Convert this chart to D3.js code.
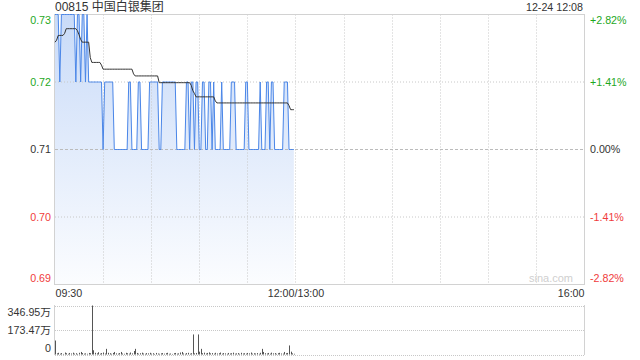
<!DOCTYPE html>
<html><head><meta charset="utf-8">
<script src="https://cdn.jsdelivr.net/npm/d3@7"></script>
<style>body{margin:0;background:#fff;} svg{display:block;font-family:"Liberation Sans",Arial,"Noto Sans CJK SC",sans-serif;}</style>
</head><body><svg width="640" height="360"></svg>
<script>
const title = "00815 中国白银集团";
const stamp = "12-24 12:08";
const prevClose = 0.71;
const priceTicks = [0.69, 0.70, 0.71, 0.72, 0.73];
const timeTicks = [0, 150, 330];
const timeLabels = ["09:30", "12:00/13:00", "16:00"];
const volTicks = [0, 173.47, 346.95];
const volLabels = ["0", "173.47万", "346.95万"];

// minute-by-minute last price from 09:30
const price = [
 .73,.73,.73,.72,.73,.73,.73,.73,.73,.73,
 .73,.73,.73,.72,.73,.73,.72,.73,.73,.72,
 .73,.72,.72,.72,.72,.72,.72,.72,.72,.72,
 .71,.72,.72,.72,.72,.72,.72,.71,.71,.71,
 .71,.71,.71,.71,.71,.71,.72,.72,.71,.71,
 .71,.71,.72,.72,.71,.71,.71,.71,.71,.72,
 .72,.72,.72,.72,.72,.71,.71,.72,.72,.72,
 .72,.72,.72,.72,.72,.72,.71,.71,.71,.71,
 .71,.71,.72,.72,.71,.72,.72,.71,.72,.72,
 .71,.71,.72,.72,.71,.71,.72,.72,.71,.72,
 .71,.71,.71,.71,.72,.71,.71,.71,.71,.71,
 .72,.72,.72,.71,.71,.71,.71,.71,.71,.72,
 .72,.71,.71,.71,.71,.71,.71,.71,.72,.71,
 .71,.71,.72,.72,.71,.72,.72,.71,.71,.71,
 .71,.71,.71,.72,.72,.72,.71,.71,.71,.71
];
// average price line
const avgPrice = [
 .7259,.7262,.7269,.7269,.7269,.7269,.7272,.7279,.7279,.7279,
 .7279,.7279,.7279,.7279,.7276,.7270,.7263,.7259,.7259,.7259,
 .7259,.7259,.7236,.7229,.7229,.7229,.7229,.7229,.7229,.7225,
 .7219,.7219,.7219,.7219,.7219,.7219,.7219,.7219,.7219,.7219,
 .7219,.7219,.7219,.7219,.7219,.7219,.7219,.7219,.7219,.7212,
 .7209,.7209,.7209,.7209,.7209,.7209,.7209,.7209,.7209,.7209,
 .7209,.7209,.7209,.7209,.7209,.7199,.7199,.7199,.7199,.7199,
 .7199,.7199,.7199,.7199,.7199,.7199,.7199,.7199,.7199,.7199,
 .7199,.7199,.7199,.7199,.7199,.7195,.7187,.7183,.7178,.7178,
 .7178,.7178,.7178,.7178,.7178,.7178,.7178,.7178,.7178,.7178,
 .7172,.7169,.7169,.7169,.7169,.7169,.7169,.7169,.7169,.7169,
 .7169,.7169,.7169,.7169,.7169,.7169,.7169,.7169,.7169,.7169,
 .7169,.7169,.7169,.7169,.7169,.7169,.7169,.7169,.7169,.7169,
 .7169,.7169,.7169,.7169,.7169,.7169,.7169,.7169,.7169,.7169,
 .7169,.7169,.7169,.7169,.7169,.7169,.7165,.7159,.7159,.7159
];
// volume per minute (万)
const volume = [
 99,8,12,6,10,4,14,9,5,11,
 7,13,6,9,4,12,18,10,6,8,
 5,11,9,346.95,30,12,8,16,6,10,
 14,7,40,12,9,5,11,18,8,6,
 10,18,7,5,12,9,6,14,8,25,
 40,11,6,9,13,7,5,10,8,12,
 6,9,4,11,7,5,8,10,6,9,
 12,5,7,4,9,11,6,8,14,18,
 7,5,10,12,6,9,142,8,11,142,
 20,40,9,13,7,11,15,8,10,6,
 12,7,9,14,6,10,8,5,11,7,
 9,13,6,8,10,5,12,7,9,6,
 11,8,14,6,9,7,10,5,12,40,
 18,9,7,11,6,13,8,10,5,9,
 12,7,6,18,9,11,64,20,8,5
];

const GREEN = "#1ea81e", RED = "#f03c3c", DARK = "#333";
const FS = 10.7;
const svg = d3.select("svg");
const x = d3.scaleLinear().domain([0, 330]).range([55, 584]);
const y = d3.scaleLinear().domain([0.69, 0.73]).range([284.5, 14.5]);
const yv = d3.scaleLinear().domain([0, 346.95]).range([354.5, 305.5]);
const colorOf = v => v > prevClose + 1e-9 ? GREEN : (v < prevClose - 1e-9 ? RED : DARK);

const defs = svg.append("defs");
const grad = defs.append("linearGradient").attr("id", "fillG")
  .attr("gradientUnits", "userSpaceOnUse").attr("x1", 0).attr("x2", 0)
  .attr("y1", y(0.73)).attr("y2", y(0.69));
grad.append("stop").attr("offset", 0).attr("stop-color", "rgb(74,134,232)").attr("stop-opacity", 0.30);
grad.append("stop").attr("offset", 1).attr("stop-color", "rgb(74,134,232)").attr("stop-opacity", 0.02);

// price area + line
svg.append("path").datum(price)
  .attr("d", d3.area().x((d, i) => x(i)).y0(y(0.69)).y1(d => y(d)))
  .attr("fill", "url(#fillG)");

// grid
const gridMin = d3.range(30, 330, 30);
svg.append("g").selectAll("line").data(gridMin).join("line")
  .attr("x1", d => Math.round(x(d)) + 0.5).attr("x2", d => Math.round(x(d)) + 0.5)
  .attr("y1", y(0.73)).attr("y2", y(0.69))
  .attr("stroke", "#c8c8c8").attr("stroke-dasharray", "1,2");
svg.append("g").selectAll("line").data(priceTicks.slice(1, -1)).join("line")
  .attr("x1", x(0)).attr("x2", x(330))
  .attr("y1", d => y(d)).attr("y2", d => y(d))
  .attr("stroke", d => d === prevClose ? "#bbb" : "#c8c8c8")
  .attr("stroke-dasharray", d => d === prevClose ? "3,2" : "1,2");
svg.append("rect").attr("x", 54.5).attr("y", 14.5).attr("width", 530).attr("height", 270)
  .attr("fill", "none").attr("stroke", "#d2d2d2");

svg.append("path").datum(price)
  .attr("d", d3.line().x((d, i) => x(i)).y(d => y(d)))
  .attr("fill", "none").attr("stroke", "#4a86e8").attr("stroke-width", 1);
svg.append("path").datum(avgPrice)
  .attr("d", d3.line().x((d, i) => x(i)).y(d => y(d)))
  .attr("fill", "none").attr("stroke", "#333").attr("stroke-width", 1);

// watermark
svg.append("text").attr("x", 573).attr("y", 282).attr("text-anchor", "end")
  .attr("font-size", 11).attr("fill", "#cfcfcf").text("sina.com");

function styleAxis(g) {
  g.select(".domain").remove();
  g.attr("font-family", null).attr("font-size", FS);
}
// left price axis
const gL = svg.append("g").attr("transform", "translate(54,0)")
  .call(d3.axisLeft(y).tickValues(priceTicks).tickSize(0).tickPadding(3).tickFormat(d3.format(".2f")));
styleAxis(gL);
gL.selectAll("text").attr("fill", d => colorOf(d))
  .attr("y", d => d === 0.73 ? 6 : (d === 0.69 ? -6 : 0));
// right percent axis
const gR = svg.append("g").attr("transform", "translate(584,0)")
  .call(d3.axisRight(y).tickValues(priceTicks).tickSize(0).tickPadding(6)
    .tickFormat(d => { const p = (d - prevClose) / prevClose * 100; return (p > 0.001 ? "+" : "") + (Math.abs(p) < 0.001 ? "0.00" : p.toFixed(2)) + "%"; }));
styleAxis(gR);
gR.selectAll("text").attr("fill", d => colorOf(d))
  .attr("y", d => d === 0.73 ? 6 : (d === 0.69 ? -6 : 0));
// time axis
const gB = svg.append("g").attr("transform", "translate(0,284)")
  .call(d3.axisBottom(x).tickValues(timeTicks).tickSize(0).tickPadding(5).tickFormat((d, i) => timeLabels[i]));
styleAxis(gB);
gB.selectAll("text").attr("fill", DARK)
  .attr("text-anchor", (d, i) => i === 0 ? "start" : (i === timeTicks.length - 1 ? "end" : "middle"));

// volume panel
svg.append("g").selectAll("line").data(volTicks).join("line")
  .attr("x1", x(0)).attr("x2", x(330))
  .attr("y1", d => Math.round(yv(d)) + 0.5).attr("y2", d => Math.round(yv(d)) + 0.5)
  .attr("stroke", "#c8c8c8").attr("stroke-dasharray", "1,1");
svg.append("line").attr("x1", 54.5).attr("x2", 54.5).attr("y1", 305).attr("y2", 355).attr("stroke", "#d2d2d2");
svg.append("line").attr("x1", 584.5).attr("x2", 584.5).attr("y1", 305).attr("y2", 355).attr("stroke", "#d2d2d2");
svg.append("g").selectAll("line").data(volume).join("line")
  .attr("x1", (d, i) => Math.round(x(i)) + 0.5).attr("x2", (d, i) => Math.round(x(i)) + 0.5)
  .attr("y1", yv(0)).attr("y2", d => yv(d))
  .attr("stroke", "#555").attr("stroke-width", 1);
const gV = svg.append("g").attr("transform", "translate(54,0)")
  .call(d3.axisLeft(yv).tickValues(volTicks).tickSize(0).tickPadding(3).tickFormat((d, i) => volLabels[i]));
styleAxis(gV);
gV.selectAll("text").attr("fill", DARK)
  .attr("y", (d, i) => i === volTicks.length - 1 ? 7 : (i === 0 ? -6 : 0));

// header
svg.append("text").attr("x", 55).attr("y", 11).attr("font-size", 12).attr("fill", DARK).text(title);
svg.append("text").attr("x", 583).attr("y", 11).attr("text-anchor", "end").attr("font-size", FS).attr("fill", DARK).text(stamp);
</script>
</body></html>
